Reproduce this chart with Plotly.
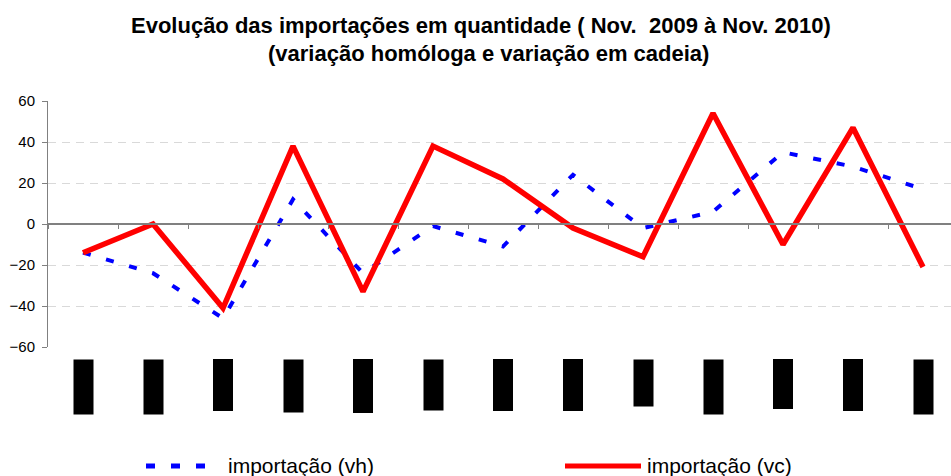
import plotly.graph_objects as go

# ---- data ----
months = ["Nov-09", "Dez-09", "Jan-10", "Fev-10", "Mar-10", "Abr-10", "Mai-10",
          "Jun-10", "Jul-10", "Ago-10", "Set-10", "Out-10", "Nov-10"]
vh = [-14, -24, -46, 12, -24, -1, -11, 24, -2, 6, 35, 28, 17]
vc = [-14, 0, -41, 38, -33, 38, 22, -2, -16, 54, -10, 47, -21]
yticks = [-60, -40, -20, 0, 20, 40, 60]
title1 = "Evolução das importações em quantidade ( Nov.  2009 à Nov. 2010)"
title2 = "(variação homóloga e variação em cadeia)"
name_vh = "importação (vh)"
name_vc = "importação (vc)"

W, H = 951, 476
ML, MR, MT, MB = 48, 0, 101, 129
PW = W - ML - MR
PH = H - MT - MB


def px_x(p):
    return (p - ML) / PW


def px_y(p):
    return (H - MB - p) / PH


BLUE = "#0000ff"
RED = "#ff0000"
FONT = "Liberation Sans, Arial, sans-serif"

fig = go.Figure()
fig.add_trace(go.Scatter(x=months, y=vh, mode="lines", name=name_vh,
                         line=dict(color=BLUE, width=4, dash="8px,16px"),
                         showlegend=False))
fig.add_trace(go.Scatter(x=months, y=vc, mode="lines", name=name_vc,
                         line=dict(color=RED, width=5.5),
                         showlegend=False))

annotations = []
# category labels (rendered as black boxes in the reference)
for m in months:
    annotations.append(dict(x=m, xref="x", y=px_y(359), yref="paper",
                            text=m, showarrow=False, textangle=-90,
                            xanchor="center", yanchor="top",
                            bgcolor="black", borderpad=1,
                            font=dict(family=FONT, size=16, color="black")))
# titles
annotations.append(dict(x=px_x(481), y=px_y(25), xref="paper", yref="paper",
                        text="<b>" + title1 + "</b>", showarrow=False,
                        xanchor="center", yanchor="middle",
                        font=dict(family=FONT, size=22, color="black")))
annotations.append(dict(x=px_x(488), y=px_y(54), xref="paper", yref="paper",
                        text="<b>" + title2 + "</b>", showarrow=False,
                        xanchor="center", yanchor="middle",
                        font=dict(family=FONT, size=22, color="black")))
# legend texts
annotations.append(dict(x=px_x(226), y=px_y(465), xref="paper", yref="paper",
                        text=name_vh, showarrow=False, xanchor="left", yanchor="middle",
                        font=dict(family=FONT, size=21, color="black")))
annotations.append(dict(x=px_x(645), y=px_y(465), xref="paper", yref="paper",
                        text=name_vc, showarrow=False, xanchor="left", yanchor="middle",
                        font=dict(family=FONT, size=21, color="black")))

shapes = [
    dict(type="line", xref="paper", yref="paper", x0=px_x(146), x1=px_x(221),
         y0=px_y(466), y1=px_y(466), line=dict(color=BLUE, width=5, dash="9px,16px")),
    dict(type="line", xref="paper", yref="paper", x0=px_x(565), x1=px_x(641),
         y0=px_y(466), y1=px_y(466), line=dict(color=RED, width=5)),
]

fig.update_layout(
    width=W, height=H,
    margin=dict(l=ML, r=MR, t=MT, b=MB, pad=0),
    paper_bgcolor="white", plot_bgcolor="white",
    font=dict(family=FONT, color="black"),
    annotations=annotations, shapes=shapes,
    showlegend=False,
    xaxis=dict(type="category", categoryorder="array", categoryarray=months,
               range=[-0.5, 12.4], showticklabels=False, showgrid=False,
               anchor="free", position=0.5, showline=True, linecolor="#808080",
               linewidth=2, ticks="outside", tickson="boundaries", ticklen=4,
               tickcolor="#808080", tickwidth=1, zeroline=False),
    yaxis=dict(range=[-60, 60], tickvals=yticks, showline=True, linecolor="#808080",
               linewidth=1, ticks="outside", ticklen=5, tickcolor="#808080",
               showgrid=True, gridcolor="#d9d9d9", griddash="8px,6px", gridwidth=1,
               zeroline=False, tickfont=dict(family=FONT, size=15, color="black"),
               ticklabelstandoff=4),
)

fig.write_html("out.html", config={"displayModeBar": False},
               post_script="document.body.style.margin='0';document.body.style.padding='0';")
